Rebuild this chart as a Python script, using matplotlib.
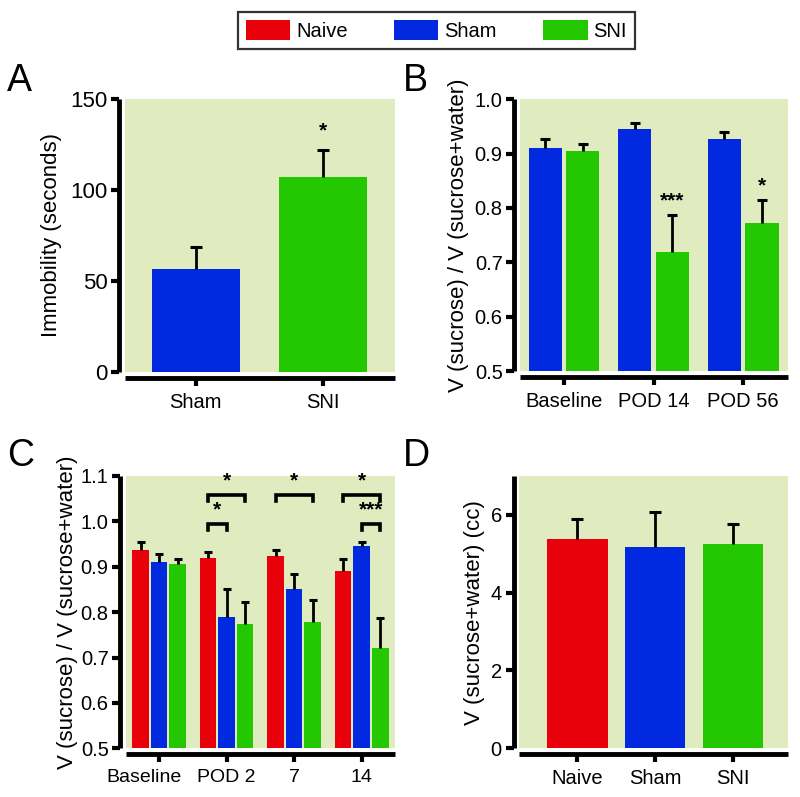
import matplotlib.pyplot as plt
import matplotlib.transforms as mtransforms
import numpy as np
from matplotlib.patches import Patch

plt.rcParams['font.family'] = ['Liberation Sans', 'DejaVu Sans']

# colours
c_naive = '#E8000A'
c_sham = '#0029E0'
c_sni = '#24C800'
bg = '#E0EBC0'

# Panel A: forced swim immobility
a_groups = ['Sham', 'SNI']
a_mean = [56.4, 107.3]
a_sem = [12.4, 14.7]

# Panel B: sucrose preference, Sham vs SNI
b_groups = ['Baseline', 'POD 14', 'POD 56']
b_sham = [0.911, 0.945, 0.926]
b_sham_sem = [0.016, 0.011, 0.014]
b_sni = [0.905, 0.719, 0.772]
b_sni_sem = [0.012, 0.068, 0.043]
b_stars = ['', '***', '*']

# Panel C: sucrose preference, three groups
c_groups = ['Baseline', 'POD 2', '7', '14']
c_naive_v = [0.937, 0.919, 0.924, 0.891]
c_naive_sem = [0.017, 0.013, 0.012, 0.027]
c_sham_v = [0.911, 0.790, 0.850, 0.946]
c_sham_sem = [0.016, 0.062, 0.033, 0.009]
c_sni_v = [0.905, 0.773, 0.778, 0.720]
c_sni_sem = [0.012, 0.049, 0.049, 0.068]
# (group, bar_from, bar_to, level, label)
c_brackets = [(1, 0, 2, 1.058, '*'), (1, 0, 1, 0.994, '*'),
              (2, 0, 2, 1.058, '*'),
              (3, 0, 2, 1.058, '*'), (3, 1, 2, 0.994, '***')]

# Panel D: total fluid intake
d_groups = ['Naive', 'Sham', 'SNI']
d_mean = [5.38, 5.18, 5.25]
d_sem = [0.51, 0.90, 0.51]

fig = plt.figure(figsize=(8, 7.97), dpi=100)
fig.patch.set_facecolor('white')

axA = fig.add_axes([0.156, 0.5333, 0.3375, 0.3425])
axB = fig.add_axes([0.650, 0.5345, 0.335, 0.341])
axC = fig.add_axes([0.1575, 0.0611, 0.336, 0.3417])
axD = fig.add_axes([0.649, 0.0611, 0.336, 0.3417])


def upper_err(ax, x, y, e, cap=3.5):
    # only the upper half of the error bar, as in Prism
    eb = ax.errorbar(x, y, yerr=[np.zeros(len(y)), e], fmt='none', ecolor='black',
                     elinewidth=2.0, capsize=cap, capthick=2.2, zorder=3)
    eb[1][0].set_visible(False)


def style(ax, fs=14.5):
    ax.set_facecolor(bg)
    for s in ['top', 'right']:
        ax.spines[s].set_visible(False)
    for s in ['left', 'bottom']:
        ax.spines[s].set_linewidth(3.5)
        ax.spines[s].set_position(('outward', 4))
        ax.spines[s].set_capstyle('butt')
    ax.tick_params(axis='both', width=3, length=5.5, labelsize=fs, pad=3, color='black')
    ax.tick_params(axis='x', length=6, pad=5)


# A
x = np.arange(len(a_groups))
axA.bar(x, a_mean, width=0.69, color=[c_sham, c_sni], zorder=2)
upper_err(axA, x, a_mean, a_sem, cap=4)
axA.text(x[1], a_mean[1] + a_sem[1] + 5, '*', ha='center', va='bottom', fontsize=15, fontweight='bold')
axA.set_xlim(-0.557, 1.56)
axA.set_ylim(0, 150)
axA.set_yticks([0, 50, 100, 150])
axA.set_xticks(x)
axA.set_xticklabels(a_groups)
style(axA, 16)
axA.tick_params(axis='x', labelsize=14.5)
axA.set_ylabel('Immobility (seconds)', fontsize=16, labelpad=6)

# B
x = np.arange(len(b_groups))
off = 0.21
w = 0.37
axB.bar(x - off, b_sham, width=w, color=c_sham, zorder=2)
axB.bar(x + off, b_sni, width=w, color=c_sni, zorder=2)
upper_err(axB, x - off, b_sham, b_sham_sem)
upper_err(axB, x + off, b_sni, b_sni_sem)
for i, s in enumerate(b_stars):
    if s:
        axB.text(x[i] + off, b_sni[i] + b_sni_sem[i] + 0.008, s, ha='center', va='bottom',
                 fontsize=15, fontweight='bold')
axB.set_xlim(-0.49, 2.5)
axB.set_ylim(0.5, 1.0)
axB.set_yticks([0.5, 0.6, 0.7, 0.8, 0.9, 1.0])
axB.set_yticklabels(['0.5', '0.6', '0.7', '0.8', '0.9', '1.0'])
axB.set_xticks(x)
axB.set_xticklabels(b_groups)
style(axB)
axB.set_ylabel('V (sucrose) / V (sucrose+water)', fontsize=16, labelpad=4)

# C
x = np.arange(len(c_groups))
off = 0.275
w = 0.245
series = [(c_naive_v, c_naive_sem, c_naive), (c_sham_v, c_sham_sem, c_sham), (c_sni_v, c_sni_sem, c_sni)]
for k, (v, e, col) in enumerate(series):
    xx = x + (k - 1) * off
    axC.bar(xx, v, width=w, color=col, zorder=2)
    upper_err(axC, xx, v, e, cap=3)
for g, b0, b1, lvl, lab in c_brackets:
    x0 = x[g] + (b0 - 1) * off
    x1 = x[g] + (b1 - 1) * off
    axC.plot([x0, x0, x1, x1], [lvl - 0.013, lvl, lvl, lvl - 0.013], color='black', lw=2.6,
             solid_joinstyle='miter', zorder=4)
    axC.text((x0 + x1) / 2, lvl + 0.01, lab, ha='center', va='bottom', fontsize=15, fontweight='bold')
axC.set_xlim(-0.49, 3.49)
axC.set_ylim(0.5, 1.1)
axC.set_yticks([0.5, 0.6, 0.7, 0.8, 0.9, 1.0, 1.1])
axC.set_yticklabels(['0.5', '0.6', '0.7', '0.8', '0.9', '1.0', '1.1'])
axC.set_xticks(x)
axC.set_xticklabels(c_groups)
style(axC)
axC.tick_params(axis='x', labelsize=14)
# "Baseline" sits left of its tick in the original
shift = mtransforms.ScaledTranslation(-0.15, 0, fig.dpi_scale_trans)
lbl0 = axC.get_xticklabels()[0]
lbl0.set_transform(lbl0.get_transform() + shift)
axC.set_ylabel('V (sucrose) / V (sucrose+water)', fontsize=16, labelpad=2)

# D
x = np.arange(len(d_groups))
axD.bar(x, d_mean, width=0.78, color=[c_naive, c_sham, c_sni], zorder=2)
upper_err(axD, x, d_mean, d_sem, cap=4)
axD.set_xlim(-0.75, 2.71)
axD.set_ylim(0, 7)
axD.set_yticks([0, 2, 4, 6])
axD.set_xticks(x)
axD.set_xticklabels(d_groups)
style(axD)
axD.set_ylabel('V (sucrose+water) (cc)', fontsize=16, labelpad=4)

# panel letters
for lab, (px, py) in zip('ABCD', [(0.009, 0.876), (0.503, 0.876), (0.009, 0.405), (0.503, 0.405)]):
    fig.text(px, py, lab, fontsize=27, ha='left', va='bottom')

# legend
handles = [Patch(facecolor=c_naive, label='Naive'), Patch(facecolor=c_sham, label='Sham'),
           Patch(facecolor=c_sni, label='SNI')]
leg = fig.legend(handles=handles, loc='center', bbox_to_anchor=(0.5456, 0.9617), ncol=3,
                 fontsize=14.5, frameon=True, fancybox=False, edgecolor='black',
                 handlelength=2.2, handleheight=1.1, handletextpad=0.3, columnspacing=2.3,
                 borderpad=0.4)
leg.get_frame().set_linewidth(1.6)

fig.savefig('out.png', dpi=100, facecolor='white')
